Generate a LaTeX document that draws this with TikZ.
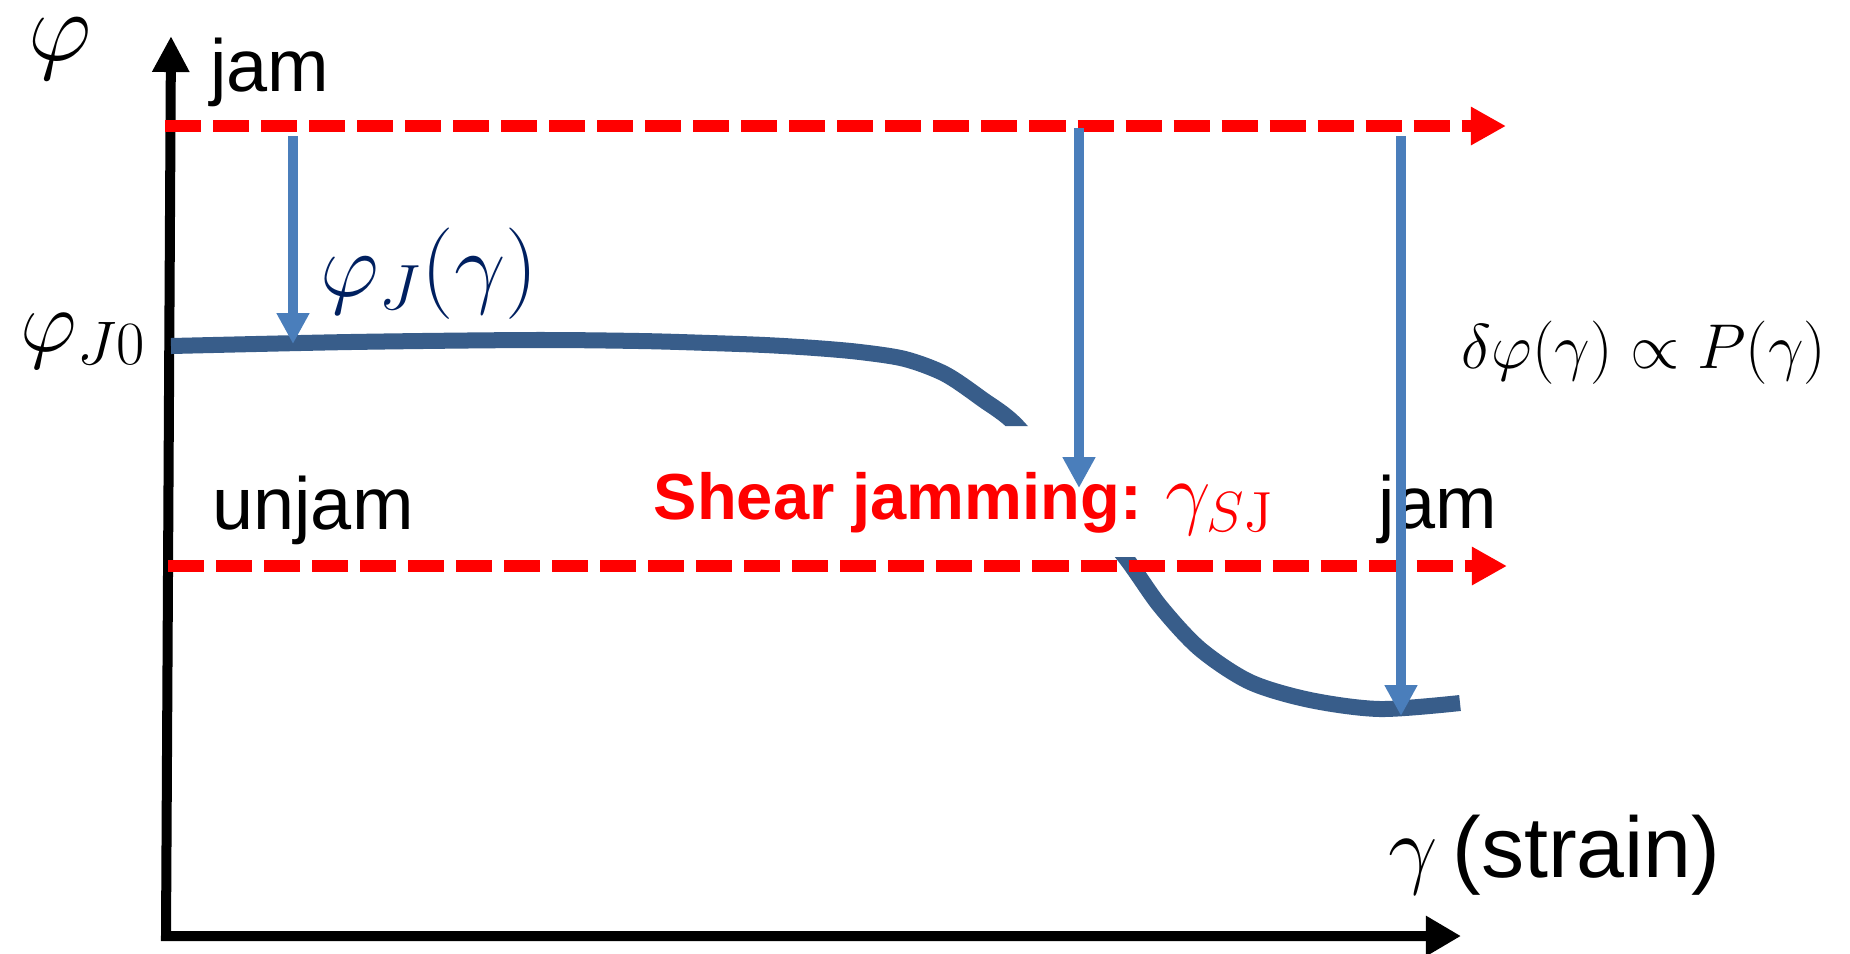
\RequirePackage{fix-cm}
\documentclass[tikz,border=0pt]{standalone}
\usepackage[no-math]{fontspec}
\setmainfont{Liberation Sans}
\usetikzlibrary{arrows.meta}
\definecolor{jamred}{RGB}{255,0,0}
\definecolor{dropc}{RGB}{74,126,187}
\definecolor{curvec}{RGB}{56,93,138}
\definecolor{navyc}{RGB}{0,32,96}
\tikzset{
  axis/.style     = {line width=0.10cm, line join=miter,
                     {Triangle[length=0.36cm,width=0.35cm]}-{Triangle[length=0.35cm,width=0.38cm]}},
  jamline/.style  = {draw=jamred, line width=0.12cm, dash pattern=on 0.36cm off 0.12cm,
                     -{Triangle[length=0.35cm,width=0.36cm]}},
  drop/.style     = {draw=dropc, line width=0.10cm, -{Triangle[length=0.31cm,width=0.31cm]}},
  curve/.style    = {draw=curvec, line width=0.16cm},
  word/.style     = {inner sep=0pt, font=\fontsize{21}{25}\selectfont},
  mathlbl/.style  = {inner sep=0pt, font=\fontsize{25}{30}\selectfont},
}

\begin{document}
\begin{tikzpicture}[x=0.01cm, y=-0.01cm]
\path[use as bounding box, fill=white] (0,0) rectangle (1850,953);

% ---- axes ----
\coordinate (origin) at (166,936);
\coordinate (ytip) at (171,36);
\coordinate (xtip) at (1461,936);
\draw[axis] (ytip) -- (origin) -- (xtip);

% ---- jamming threshold phi_J(gamma), hidden behind the label ----
\begin{scope}
  \clip (0,0) rectangle (1850,426) (0,557) rectangle (1850,953);
  \draw[curve] plot[smooth] coordinates {(171,346) (350,342) (530,340) (640,341) (710,343)
    (765,345) (815,348) (860,352) (905,359) (945,374) (982,399) (1017,426) (1071,492)
    (1125,557) (1160,606) (1200,649) (1250,682) (1310,700) (1380,709) (1460,703)};
\end{scope}

% ---- jam / unjam lines ----
\coordinate (top0) at (165,126);
\coordinate (top1) at (1506,126);
\coordinate (low0) at (168,566);
\coordinate (low1) at (1507,566);
\draw[jamline] (top0) -- (top1);
\draw[jamline] (low0) -- (low1);

% ---- labels ----
\node[mathlbl, font=\fontsize{28}{32}\selectfont] (phi) at (60,49) {$\varphi$};
\node[word, anchor=base] (jamtop) at (270,91) {jam};
\node[mathlbl, anchor=base east] (phij0) at (147,351) {$\varphi_{J0}$};
\node[mathlbl, anchor=base west, text=navyc, font=\fontsize{26}{30}\selectfont] (phij)
  at (320,296) {$\varphi_J(\gamma)$};
\node[word, anchor=base] (unjam) at (313,529) {unjam};
\node[inner sep=0pt, anchor=base west, text=jamred, font=\fontsize{18.5}{22}\selectfont\bfseries] (sj)
  at (653,519) {Shear jamming: {\fontsize{23}{28}\selectfont$\gamma_{S\mathrm{J}}$}};
\node[word, anchor=base] (jamlow) at (1438,528) {jam};
\node[inner sep=0pt, anchor=base, font=\fontsize{18}{22}\selectfont] (prop)
  at (1644,368) {$\delta\varphi(\gamma)\propto P(\gamma)$};
\node[inner sep=0pt, anchor=base west, font=\fontsize{24.5}{29}\selectfont] (strain)
  at (1388,877) {{\fontsize{25}{30}\selectfont$\gamma$}\,(strain)};

% ---- drops from the jam line to phi_J ----
\coordinate (d1a) at (293,136);
\coordinate (d1b) at (293,344);
\coordinate (d2a) at (1079,128);
\coordinate (d2b) at (1079,488);
\coordinate (d3a) at (1401,136);
\coordinate (d3b) at (1401,716);
\draw[drop] (d1a) -- (d1b);
\draw[drop] (d2a) -- (d2b);
\draw[drop] (d3a) -- (d3b);

\end{tikzpicture}
\end{document}
